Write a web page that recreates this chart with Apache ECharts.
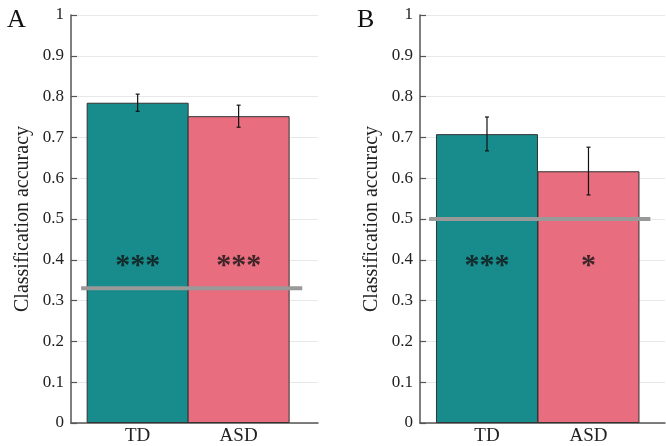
<!DOCTYPE html>
<html>
<head>
    <meta charset="utf-8">
    <title>Classification accuracy</title>
    <script src="https://cdn.jsdelivr.net/npm/echarts@6/dist/echarts.min.js"></script>
    <style>
        html, body { margin: 0; padding: 0; background: #fff; }
        #main { width: 666px; height: 446px; }
    </style>
</head>
<body>
<div id="main"></div>
<script type="text/javascript">
    // data
    var groups = ['TD', 'ASD'];
    var accA = [0.785, 0.752];
    var lowA = [0.764, 0.725];
    var highA = [0.806, 0.779];
    var sigA = ['***', '***'];
    var accB = [0.708, 0.617];
    var lowB = [0.667, 0.559];
    var highB = [0.750, 0.676];
    var sigB = ['***', '*'];
    var chance = [0.33, 0.5];
    var sigLevel = 0.4;
    var colors = ['#188b8d', '#e76d7f'];

    var serif = "'Liberation Serif', 'Times New Roman', serif";
    var axisColor = '#555';

    var myChart = echarts.init(document.getElementById('main'));

    function yAxisFor(idx) {
        return {
            gridIndex: idx, type: 'value', min: 0, max: 1, interval: 0.1,
            name: 'Classification accuracy', nameLocation: 'middle', nameGap: 38,
            nameTextStyle: { fontFamily: serif, fontSize: 20, color: '#222' },
            axisLine: { show: true, lineStyle: { color: axisColor, width: 1.5 } },
            axisTick: { show: true, inside: true, length: 6, lineStyle: { color: axisColor, width: 1.2 } },
            axisLabel: { fontFamily: serif, fontSize: 17, color: '#222', margin: 7 },
            splitLine: { show: true, lineStyle: { color: '#e8e8e8', width: 1 } }
        };
    }

    function xAxisFor(idx, max) {
        return {
            gridIndex: idx, type: 'value', min: 0.34, max: max,
            axisLine: { show: true, onZero: false, lineStyle: { color: axisColor, width: 1.5 } },
            axisTick: { show: false },
            splitLine: { show: false },
            axisLabel: {
                customValues: [1, 2], fontFamily: serif, fontSize: 19, color: '#222', margin: 4,
                formatter: function (v) { return groups[Math.round(v) - 1]; }
            }
        };
    }

    function panelSeries(idx, acc, low, high, sig, level, span) {
        var barData = acc.map(function (v, i) {
            return { value: [i + 1, v], itemStyle: { color: colors[i] } };
        });
        var errData = acc.map(function (v, i) { return [i + 1, low[i], high[i]]; });
        var sigData = sig.map(function (s, i) { return { value: [i + 1, sigLevel], label: { formatter: s } }; });
        return [
            {
                type: 'bar', xAxisIndex: idx, yAxisIndex: idx, barWidth: 102,
                data: barData, z: 2,
                itemStyle: { borderColor: '#333', borderWidth: 1 }
            },
            {
                type: 'line', xAxisIndex: idx, yAxisIndex: idx, symbol: 'none', z: 4,
                lineStyle: { color: '#999', width: 4 },
                data: [[span[0], level], [span[1], level]]
            },
            {
                type: 'custom', xAxisIndex: idx, yAxisIndex: idx, z: 5,
                data: errData,
                renderItem: function (params, api) {
                    var x = api.value(0);
                    var top = api.coord([x, api.value(2)]);
                    var bot = api.coord([x, api.value(1)]);
                    var cap = 2;
                    var style = { stroke: '#111', lineWidth: 1.2 };
                    return {
                        type: 'group',
                        children: [
                            { type: 'line', shape: { x1: top[0], y1: top[1], x2: bot[0], y2: bot[1] }, style: style },
                            { type: 'line', shape: { x1: top[0] - cap, y1: top[1], x2: top[0] + cap, y2: top[1] }, style: style },
                            { type: 'line', shape: { x1: bot[0] - cap, y1: bot[1], x2: bot[0] + cap, y2: bot[1] }, style: style }
                        ]
                    };
                }
            },
            {
                type: 'scatter', xAxisIndex: idx, yAxisIndex: idx, symbolSize: 0, z: 6,
                data: sigData,
                label: {
                    show: true, position: 'inside', fontFamily: serif, fontSize: 30, fontWeight: 'bold',
                    color: '#111', offset: [0, 6]
                }
            }
        ];
    }

    var option = {
        animation: false,
        title: [
            { text: 'A', left: 2, top: 2, textStyle: { fontFamily: serif, fontSize: 26, fontWeight: 'normal', color: '#111' } },
            { text: 'B', left: 352, top: 2, textStyle: { fontFamily: serif, fontSize: 26, fontWeight: 'normal', color: '#111' } }
        ],
        grid: [
            { left: 71, top: 15, width: 247, height: 410 },
            { left: 420, top: 15, width: 245, height: 410 }
        ],
        xAxis: [xAxisFor(0, 2.786), xAxisFor(1, 2.754)],
        yAxis: [yAxisFor(0), yAxisFor(1)],
        series: [].concat(
            panelSeries(0, accA, lowA, highA, sigA, chance[0], [0.44, 2.63]),
            panelSeries(1, accB, lowB, highB, sigB, chance[1], [0.43, 2.61])
        )
    };

    myChart.setOption(option);
</script>
</body>
</html>
